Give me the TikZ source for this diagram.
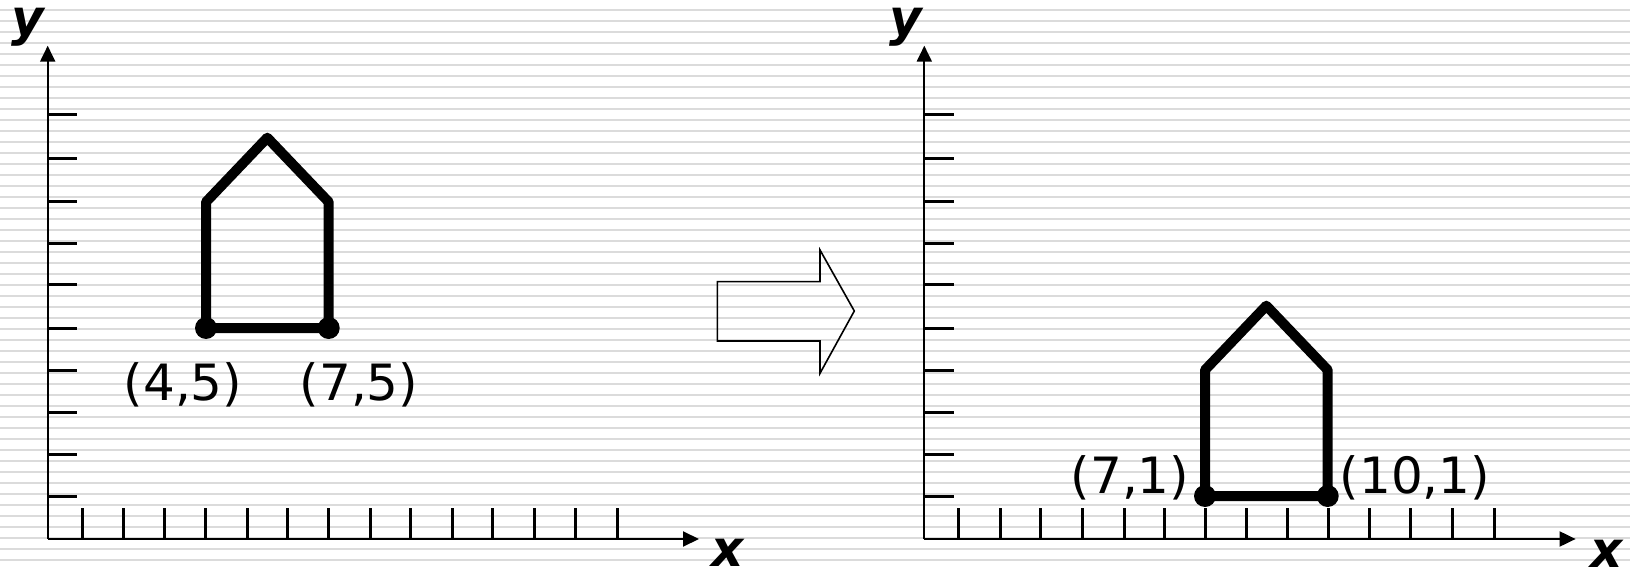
\documentclass[tikz,border=0pt]{standalone}
\usepackage{fontspec}
\setmainfont{DejaVu Sans}
\usetikzlibrary{arrows.meta}
\definecolor{stripe}{RGB}{219,219,219}
\tikzset{
  stripeline/.style={draw=stripe, line width=2.2pt},
  axisline/.style={draw=black, line width=2pt, -{Triangle[length=16pt,width=15pt]}},
  tickline/.style={draw=black, line width=3pt},
  houseline/.style={draw=black, line width=10pt, line join=round},
  housedot/.style={fill=black},
  coordlabel/.style={inner sep=0pt, anchor=base, font=\fontsize{50}{60}\selectfont},
  axislabel/.style={inner sep=0pt, anchor=base, font=\fontsize{50}{60}\selectfont\bfseries\itshape},
  blockarrow/.style={draw=black, line width=1.6pt, line join=miter}
}
\begin{document}
\begin{tikzpicture}[x=1pt,y=-1pt]
\useasboundingbox (0,0) rectangle (1630,569);
\clip (0,0) rectangle (1630,569);
% background stripes
\foreach \k in {0,...,51}{
  \draw[stripeline] (0,10+11*\k) -- (1630,10+11*\k);
}
% two coordinate systems
\foreach \s/\n in {0/L,876.6/R}{
  \begin{scope}[xshift=\s pt]
    \coordinate (o\n) at (47.7,539);
    \coordinate (ytip\n) at (47.7,45.7);
    \coordinate (xtip\n) at (699,539);
    \foreach \ty in {114.3,159.0,201.7,243.2,284.8,328.5,370.1,412.7,454.3,496.9}{
      \draw[tickline] (47.7,\ty) -- (77.3,\ty);
    }
    \foreach \tx in {82.1,123.7,164.2,205.8,247.4,287.9,328.5,370.1,410.6,452.2,492.7,534.3,575.9,617.5}{
      \draw[tickline] (\tx,539) -- (\tx,508);
    }
    \draw[axisline] (o\n) -- (ytip\n);
    \draw[axisline] (o\n) -- (xtip\n);
  \end{scope}
}
\node[axislabel] (yL) at (28,36) {y};
\node[axislabel] (xL) at (728,566) {x};
\node[axislabel] (yR) at (906,36) {y};
\node[axislabel] (xR) at (1607,567) {x};
% left house
\coordinate (a1) at (206,328);
\coordinate (a2) at (206,202);
\coordinate (a3) at (267.3,137.7);
\coordinate (a4) at (328.7,202);
\coordinate (a5) at (328.7,328);
\draw[houseline] (a1) -- (a2) -- (a3) -- (a4) -- (a5) -- cycle;
\fill[housedot] (a1) circle (11);
\fill[housedot] (a5) circle (11);
\node[coordlabel] (l45) at (183,400) {(4,5)};
\node[coordlabel] (l75) at (359,400) {(7,5)};
% right house
\coordinate (b1) at (1205,496);
\coordinate (b2) at (1205,370);
\coordinate (b3) at (1266.3,305.7);
\coordinate (b4) at (1327.7,370);
\coordinate (b5) at (1327.7,496);
\draw[houseline] (b1) -- (b2) -- (b3) -- (b4) -- (b5) -- cycle;
\fill[housedot] (b1) circle (11);
\fill[housedot] (b5) circle (11);
\node[coordlabel] (l71) at (1130,493) {(7,1)};
\node[coordlabel] (l101) at (1415,493) {(10,1)};
% block arrow
\draw[blockarrow] (717.3,281.7) -- (820,281.7) -- (820,250) -- (854.3,311)
  -- (820,373.3) -- (820,341) -- (717.3,341) -- cycle;
\end{tikzpicture}
\end{document}
